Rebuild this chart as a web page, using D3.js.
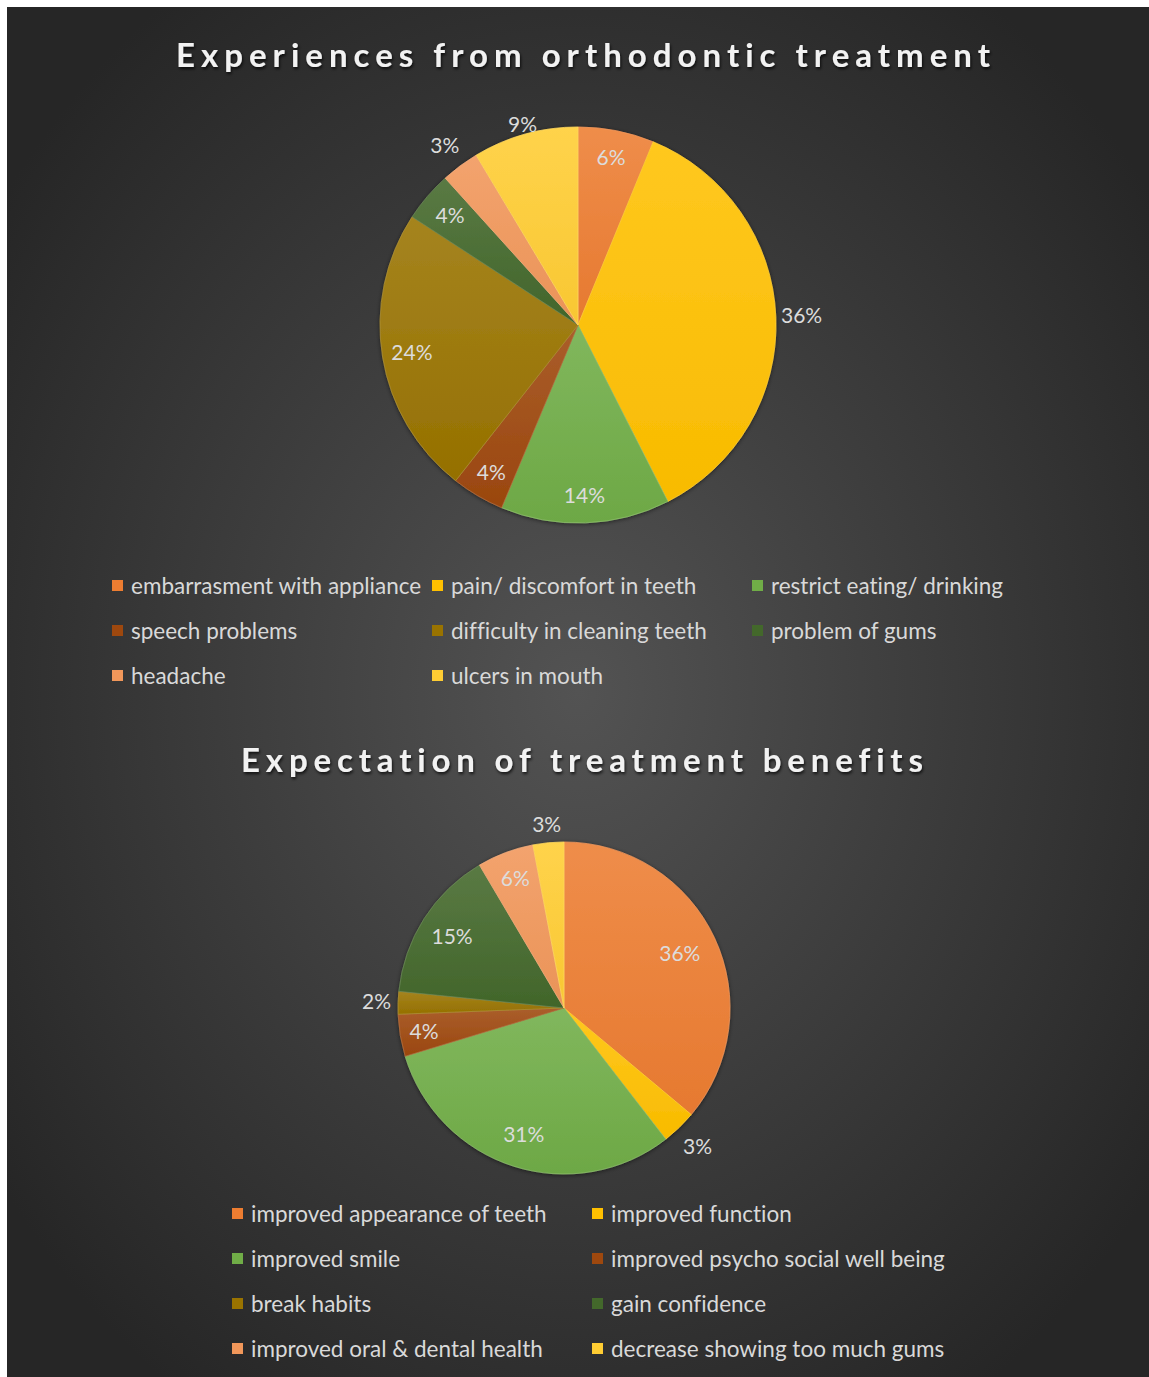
<!DOCTYPE html>
<html><head><meta charset="utf-8">
<script src="https://cdn.jsdelivr.net/npm/d3@7"></script>
<style>html,body{margin:0;padding:0;background:#fff;}svg{display:block;}text{font-variant-ligatures:none;font-feature-settings:"liga" 0;}</style>
</head><body>
<script>
// ---- data ----
const title1 = "Experiences from orthodontic treatment";
const categories1 = ["embarrasment with appliance","pain/ discomfort in teeth","restrict eating/ drinking","speech problems","difficulty in cleaning teeth","problem of gums","headache","ulcers in mouth"];
const values1 = [6.2, 36.3, 13.8, 4.3, 23.6, 4.1, 3.1, 8.6];
const labelRadius1 = [0.86, 1.13, 0.86, 0.865, 0.85, 0.85, 1.13, 1.05];

const title2 = "Expectation of treatment benefits";
const categories2 = ["improved appearance of teeth","improved function","improved smile","improved psycho social well being","break habits","gain confidence","improved oral & dental health","decrease showing too much gums"];
const values2 = [36.1, 3.4, 30.8, 4.1, 2.2, 14.9, 5.5, 3.0];
const labelRadius2 = [0.77, 1.16, 0.8, 0.855, 1.13, 0.8, 0.83, 1.11];

const palette = ["#ED7D31","#FFC000","#70AD47","#9E480E","#997300","#43682B","#F1975A","#FFCD33"];

// ---- layout ----
const W = 1149, H = 1377;
const svg = d3.select("body").append("svg").attr("width", W).attr("height", H);
const defs = svg.append("defs");

const bg = defs.append("radialGradient").attr("id","bg").attr("cx","50%").attr("cy","50%").attr("r","62%");
bg.append("stop").attr("offset","0%").attr("stop-color","#535353");
bg.append("stop").attr("offset","100%").attr("stop-color","#262626");

const ts = defs.append("filter").attr("id","tshadow").attr("x","-5%").attr("y","-30%").attr("width","110%").attr("height","160%");
ts.append("feDropShadow").attr("dx",1).attr("dy",2).attr("stdDeviation",1.6).attr("flood-color","#000").attr("flood-opacity",0.75);

const ps = defs.append("filter").attr("id","pshadow").attr("x","-10%").attr("y","-10%").attr("width","120%").attr("height","120%");
ps.append("feDropShadow").attr("dx",0).attr("dy",1).attr("stdDeviation",2).attr("flood-color","#000").attr("flood-opacity",0.5);

palette.forEach((c,i)=>{
  const g = defs.append("linearGradient").attr("id","g"+i).attr("x1",0).attr("y1",0).attr("x2",0).attr("y2",1);
  g.append("stop").attr("offset","0%").attr("stop-color", d3.interpolateRgb(c,"#ffffff")(0.12));
  g.append("stop").attr("offset","100%").attr("stop-color", d3.color(c).darker(0.08).formatHex());
});

svg.append("rect").attr("x",7).attr("y",7).attr("width",W-7).attr("height",H-7).attr("fill","url(#bg)");

function drawPie(opt){
  const {title, titleX, titleY, titleW, cx, cy, r, cats, vals, lr, legX, legY, colW, rowH, cols} = opt;
  svg.append("text").attr("x", titleX).attr("y", titleY)
    .attr("text-anchor","middle")
    .attr("font-family","Lato, 'Open Sans', sans-serif").attr("font-weight","bold")
    .attr("font-size", 33).attr("fill","#f2f2f2")
    .attr("textLength", titleW).attr("lengthAdjust","spacing")
    .attr("filter","url(#tshadow)").text(title);

  const total = d3.sum(vals);
  const pie = d3.pie().sort(null).value(d=>d)(vals);
  const arc = d3.arc().innerRadius(0).outerRadius(r);
  const g = svg.append("g").attr("transform",`translate(${cx},${cy})`);
  const slices = g.append("g").attr("filter","url(#pshadow)");
  slices.selectAll("path").data(pie).join("path")
    .attr("d", arc)
    .attr("fill",(d,i)=>`url(#g${i})`)
    .attr("stroke",(d,i)=>d3.interpolateRgb(palette[i],"#ffffff")(0.2))
    .attr("stroke-width",0.8);

  g.selectAll("text.lbl").data(pie).join("text").attr("class","lbl")
    .attr("transform",(d,i)=>{
      const a = (d.startAngle+d.endAngle)/2;
      const rr = r*lr[i];
      return `translate(${Math.sin(a)*rr},${-Math.cos(a)*rr})`;
    })
    .attr("text-anchor","middle").attr("dy","0.35em")
    .attr("font-family","Lato, sans-serif").attr("font-size",21)
    .attr("fill","#dcdcdc")
    .text(d=>Math.round(d.data/total*100)+"%");

  const leg = svg.append("g");
  cats.forEach((c,i)=>{
    const col = i % cols, row = Math.floor(i/cols);
    const x = legX + col*colW, y = legY + row*rowH;
    const gi = leg.append("g").attr("transform",`translate(${x},${y})`);
    gi.append("rect").attr("x",0).attr("y",-6).attr("width",11).attr("height",11).attr("fill",palette[i]);
    gi.append("text").attr("x",19).attr("y",0).attr("dy","0.35em")
      .attr("font-family","Lato, sans-serif").attr("font-size",22.5)
      .attr("fill","#d9d9d9").text(c);
  });
}

drawPie({title:title1, titleX:583, titleY:67, titleW:814, cx:578, cy:325, r:198,
  cats:categories1, vals:values1, lr:labelRadius1,
  legX:112, legY:586, colW:320, rowH:45, cols:3});

drawPie({title:title2, titleX:582, titleY:772, titleW:682, cx:564, cy:1008, r:166,
  cats:categories2, vals:values2, lr:labelRadius2,
  legX:232, legY:1214, colW:360, rowH:45, cols:2});
</script>
</body></html>
